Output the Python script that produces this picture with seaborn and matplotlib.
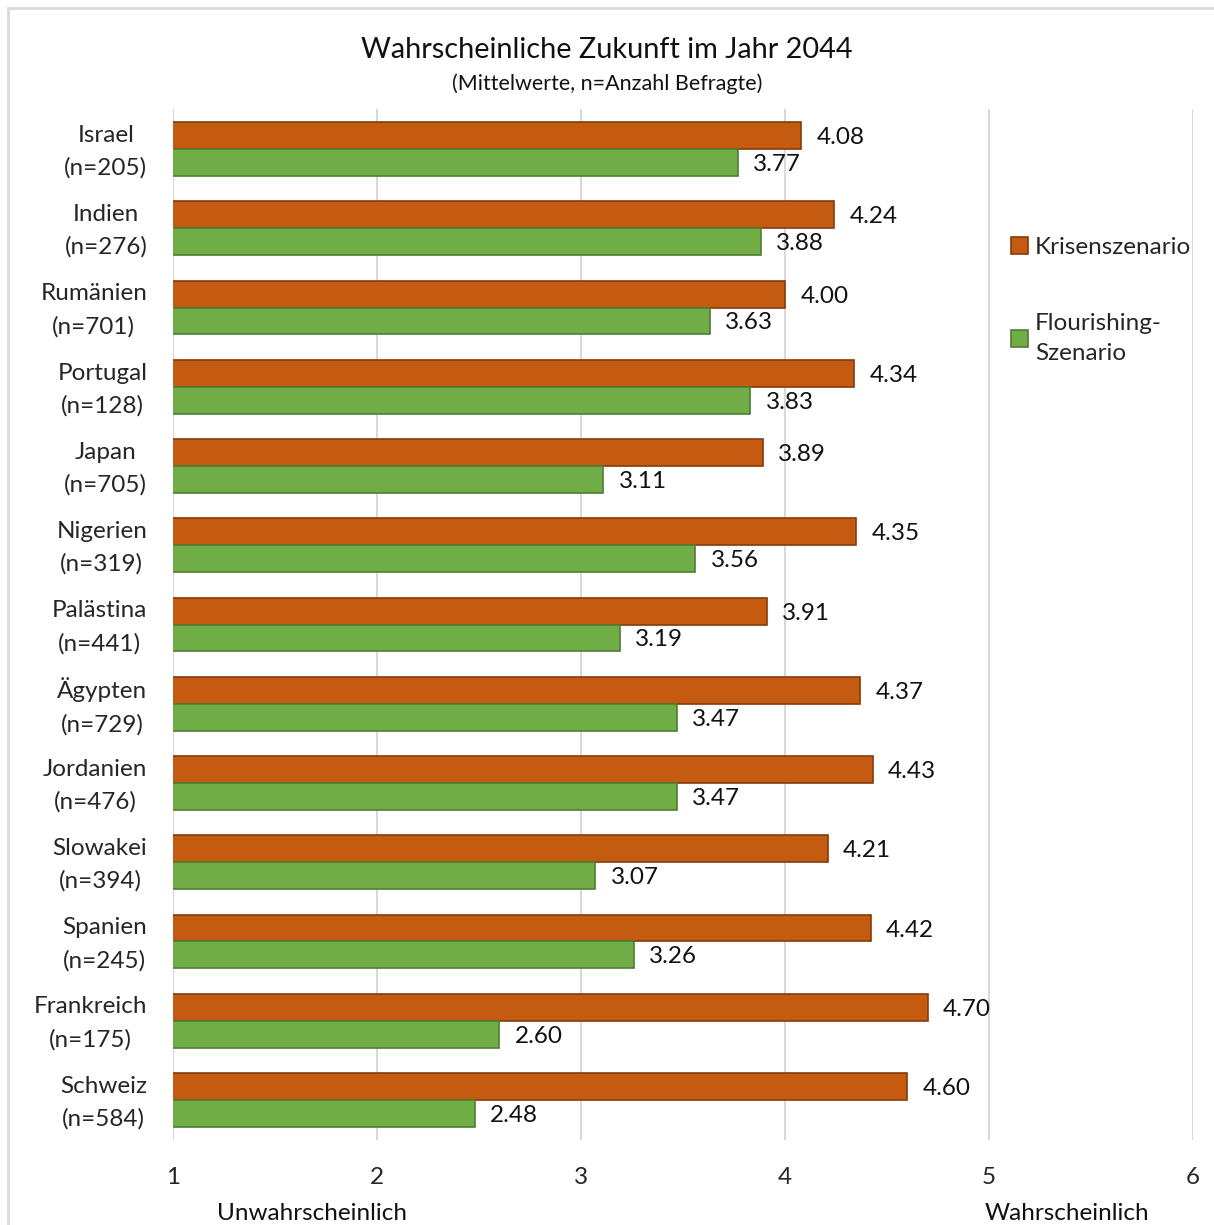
import matplotlib
matplotlib.use("Agg")
import matplotlib.pyplot as plt
import matplotlib.transforms as mtransforms
import seaborn as sns
import pandas as pd
from matplotlib.patches import Rectangle

countries = ["Israel", "Indien", "Rumänien", "Portugal", "Japan", "Nigerien", "Palästina",
             "Ägypten", "Jordanien", "Slowakei", "Spanien", "Frankreich", "Schweiz"]
n_resp = [205, 276, 701, 128, 705, 319, 441, 729, 476, 394, 245, 175, 584]
krise = [4.08, 4.24, 4.00, 4.34, 3.89, 4.35, 3.91, 4.37, 4.43, 4.21, 4.42, 4.70, 4.60]
flourishing = [3.77, 3.88, 3.63, 3.83, 3.11, 3.56, 3.19, 3.47, 3.47, 3.07, 3.26, 2.60, 2.48]
series_names = ["Krisenszenario", "Flourishing-\nSzenario"]
x_ticks = [1, 2, 3, 4, 5, 6]

sns.set_theme(style="white")
plt.rcParams["font.family"] = ["Lato", "DejaVu Sans"]

labels = [f"{c}\n(n={n})" for c, n in zip(countries, n_resp)]
df = pd.DataFrame({
    "Land": labels * 2,
    "Wert": krise + flourishing,
    "Szenario": [series_names[0]] * len(labels) + [series_names[1]] * len(labels),
})

fig = plt.figure(figsize=(12.14, 12.25), dpi=100)
ax = fig.add_axes([0.1425, 0.0697, 0.8402, 0.8410])

palette = {series_names[0]: "#C55A11", series_names[1]: "#70AD47"}
sns.barplot(data=df, y="Land", x="Wert", hue="Szenario", palette=palette,
            orient="h", width=0.68, ax=ax, saturation=1, legend=True)

edge = {series_names[0]: "#843C0C", series_names[1]: "#507E32"}
for cont, name in zip(ax.containers, series_names):
    for bar in cont:
        bar.set_edgecolor(edge[name])
        bar.set_linewidth(1.2)
    texts = ax.bar_label(cont, fmt="%.2f", padding=11, fontsize=17.5, color="#111111")
    for t in texts:
        t.set_va("center_baseline")

ax.set_xlim(1, 6)
ax.set_xticks(x_ticks)
ax.set_xticklabels([str(t) for t in x_ticks], fontsize=17.5)
ax.grid(axis="x", color="#d9d9d9", linewidth=1.5)
ax.set_axisbelow(True)
for s in ax.spines.values():
    s.set_visible(False)
ax.tick_params(axis="x", length=0, pad=20)
ax.tick_params(axis="y", length=0, pad=18.5)
ax.set_xlabel("")
ax.set_ylabel("")

# lift the two-line country labels slightly so they sit centred on each bar pair
lift = mtransforms.ScaledTranslation(0, 5 / 100, fig.dpi_scale_trans)
for lab in ax.get_yticklabels():
    lab.set_fontsize(17.5)
    lab.set_multialignment("center")
    lab.set_linespacing(1.65)
    lab.set_transform(lab.get_transform() + lift)

leg = ax.legend(loc="upper left", bbox_to_anchor=(0.80, 0.897),
                frameon=False, fontsize=17.5, handlelength=0.7, handleheight=0.7,
                handletextpad=0.3, labelspacing=2.25)
for h, name in zip(leg.legend_handles, series_names):
    h.set_edgecolor(edge[name])
    h.set_linewidth(1.2)
for t in leg.get_texts():
    t.set_linespacing(1.5)

fig.text(0.5, 1 - 50 / 1225, "Wahrscheinliche Zukunft im Jahr 2044", ha="center", va="center",
         fontsize=20.8, color="#111111")
fig.text(0.5, 1 - 84 / 1225, "(Mittelwerte, n=Anzahl Befragte)", ha="center", va="center",
         fontsize=15.5, color="#111111")
fig.text(312 / 1214, 1 - 1213 / 1225, "Unwahrscheinlich", ha="center", va="center",
         fontsize=17.5, color="#111111")
fig.text(1067 / 1214, 1 - 1213 / 1225, "Wahrscheinlich", ha="center", va="center",
         fontsize=17.5, color="#111111")

fig.add_artist(Rectangle((8 / 1214, -0.01), 1.0, 1 - 8 / 1225 + 0.01,
                         transform=fig.transFigure, fill=False,
                         edgecolor="#d9d9d9", linewidth=2))

fig.savefig("out.png", dpi=100)
